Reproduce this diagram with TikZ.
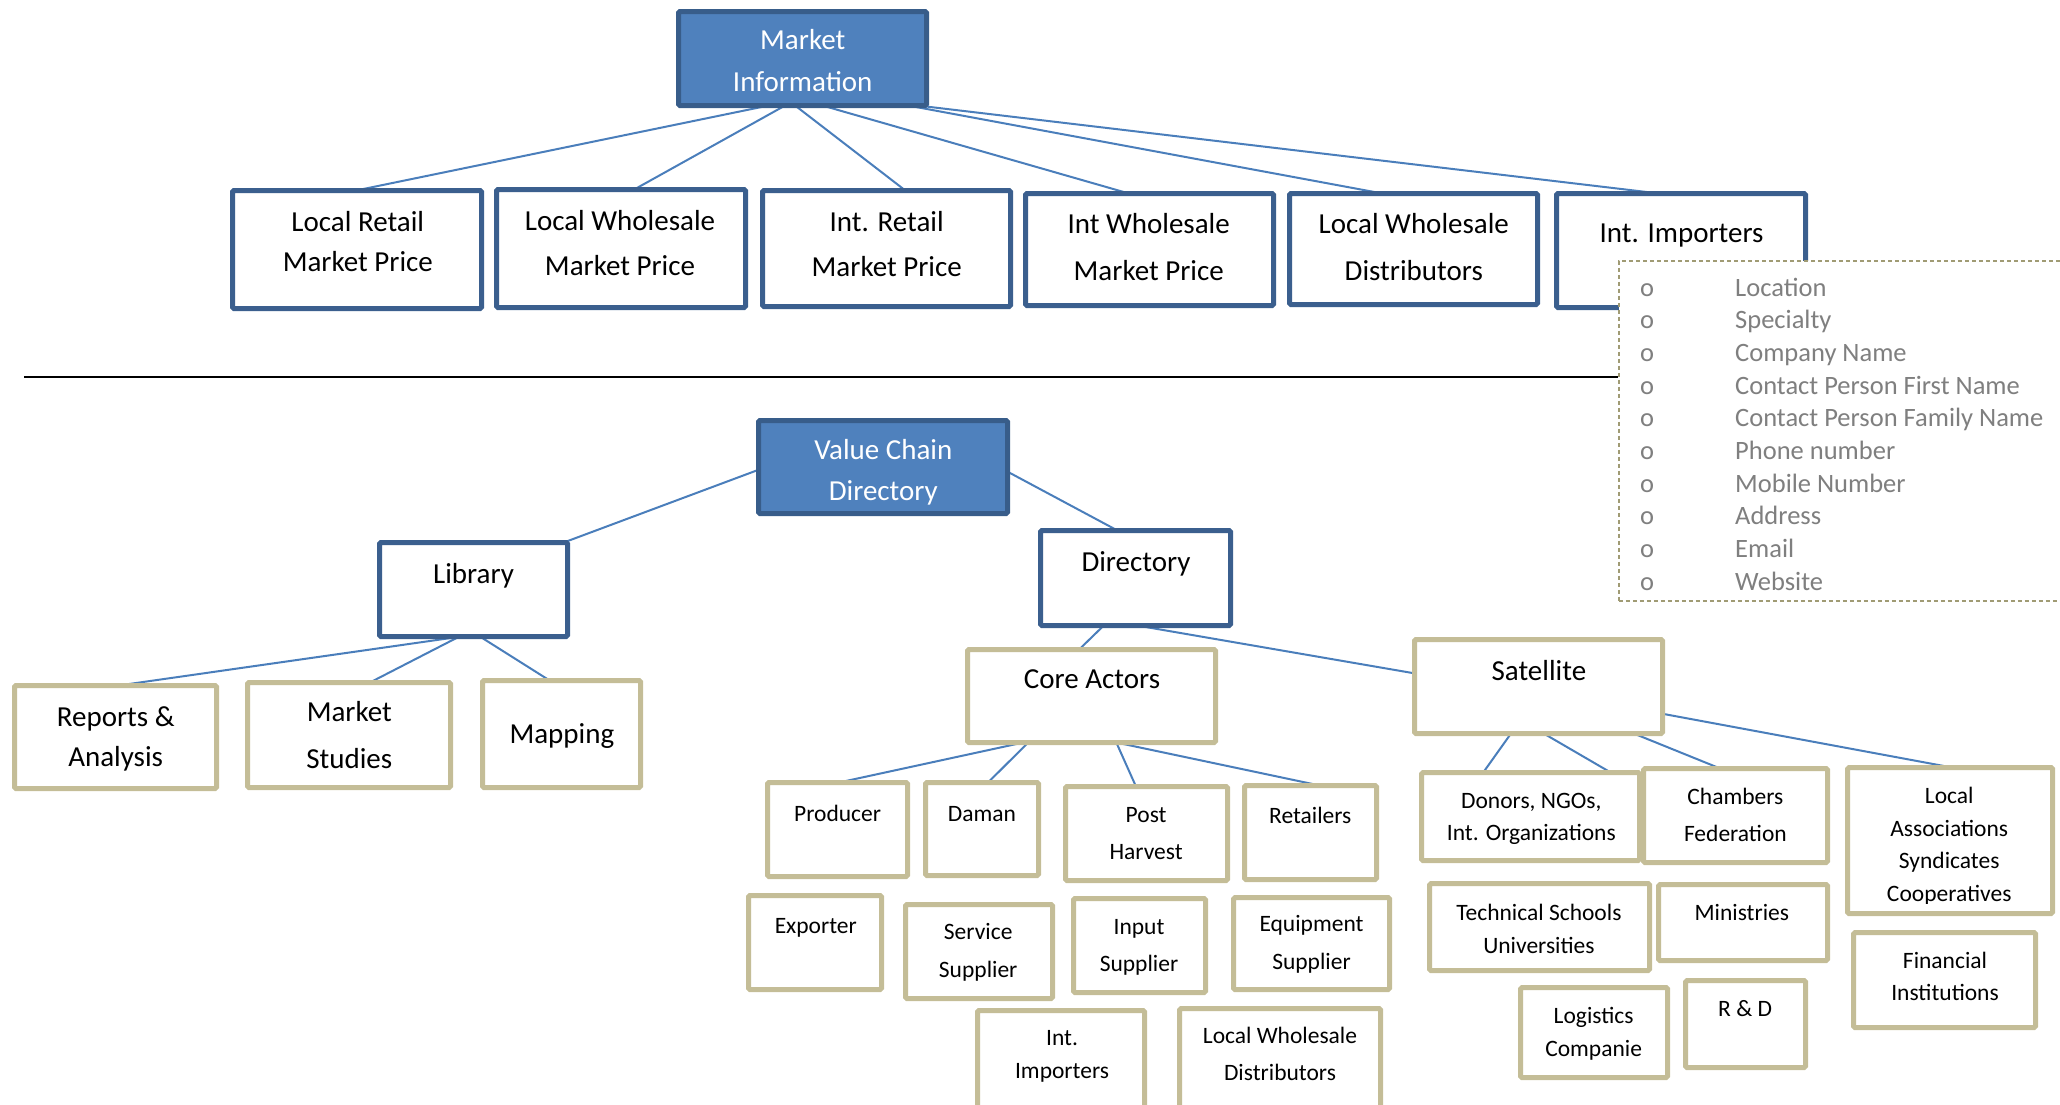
\documentclass[tikz,border=0pt]{standalone}
\usepackage{fontspec}
\setmainfont{Carlito}
\usetikzlibrary{calc}
\definecolor{mifill}{HTML}{4F81BD}
\definecolor{miborder}{HTML}{385D8A}
\definecolor{bluebrd}{HTML}{3B5F8E}
\definecolor{tanbrd}{HTML}{C4BD97}
\definecolor{connc}{HTML}{4A7EBB}
\definecolor{dashc}{HTML}{A09B74}
\definecolor{listc}{HTML}{7F7F7F}
\newcommand\myfs[2]{\fontsize{#1}{#2}\selectfont}
\newcommand\bx[6]{\node[#6, minimum width={(#4)-(#2)-5}, minimum height={(#5)-(#3)-5}] (#1) at ({((#2)+(#4))/2},{((#3)+(#5))/2}) {};}
\pgfdeclarelayer{bg}
\pgfsetlayers{bg,main}
\tikzset{
  boxbase/.style={rectangle, inner sep=0pt, outer sep=0pt, line width=5pt, rounded corners=1.5pt},
  bluebox/.style={boxbase, draw=bluebrd, fill=white},
  headbox/.style={boxbase, draw=miborder, fill=mifill},
  tanbox/.style={boxbase, draw=tanbrd, fill=white},
  dashbox/.style={rectangle, inner sep=0pt, draw=dashc, dash pattern=on 4pt off 3pt, line width=1.6pt, fill=white},
  connector/.style={draw=connc, line width=2pt},
  bigtxt/.style={anchor=base, align=center, inner sep=0pt, font=\myfs{29}{#1}},
  smalltxt/.style={anchor=base, align=center, inner sep=0pt, font=\myfs{23.5}{#1}},
  whitetxt/.style={anchor=base, align=center, inner sep=0pt, text=white, font=\myfs{29}{#1}},
  listtxt/.style={anchor=base west, inner sep=0pt, text=listc, font=\myfs{26.5}{30}},
}
\begin{document}
\begin{tikzpicture}[x=1pt, y=-1pt]
\useasboundingbox (0,0) rectangle (2060,1104);
% ---------------- boxes ----------------
\bx{mi}{676}{9}{929}{108}{headbox}
\bx{lr}{230}{188}{484}{311}{bluebox}
\bx{lw}{494}{187}{748}{310}{bluebox}
\bx{ir}{760}{188}{1013}{309}{bluebox}
\bx{iw}{1023}{191}{1276}{308}{bluebox}
\bx{lwd}{1287}{191}{1540}{307}{bluebox}
\bx{ii}{1554}{191}{1808}{310}{bluebox}
\bx{vcd}{756}{418}{1010}{516}{headbox}
\bx{lib}{377}{540}{570}{639}{bluebox}
\bx{dir}{1038}{528}{1233}{628}{bluebox}
\bx{rep}{12}{683}{219}{791}{tanbox}
\bx{ms}{245}{680}{453}{790}{tanbox}
\bx{map}{480}{678}{643}{790}{tanbox}
\bx{core}{965}{647}{1218}{745}{tanbox}
\bx{sat}{1412}{637}{1665}{736}{tanbox}
\bx{prod}{765}{780}{910}{879}{tanbox}
\bx{dam}{923}{780}{1041}{878}{tanbox}
\bx{ph}{1063}{784}{1230}{883}{tanbox}
\bx{ret}{1242}{783}{1379}{882}{tanbox}
\bx{exp}{746}{893}{884}{992}{tanbox}
\bx{ss}{903}{902}{1055}{1001}{tanbox}
\bx{is}{1071}{896}{1208}{995}{tanbox}
\bx{es}{1231}{895}{1392}{992}{tanbox}
\bx{iitwo}{975}{1008}{1147}{1125}{tanbox}
\bx{lwdtwo}{1177}{1006}{1383}{1125}{tanbox}
\bx{don}{1419}{770}{1642}{863}{tanbox}
\bx{cha}{1641}{766}{1830}{865}{tanbox}
\bx{loc}{1845}{765}{2055}{916}{tanbox}
\bx{tech}{1427}{881}{1652}{973}{tanbox}
\bx{min}{1656}{882}{1830}{963}{tanbox}
\bx{fin}{1851}{930}{2038}{1030}{tanbox}
\bx{log}{1518}{985}{1670}{1080}{tanbox}
\bx{rd}{1683}{978}{1808}{1070}{tanbox}
% ---------------- separator line and attribute list ----------------
\coordinate (hl) at (24,377);
\node[dashbox, anchor=north west, minimum width=460pt, minimum height=340pt] (attr) at (1618,260) {};
\draw[black, line width=1.8pt] (hl) -- (hl -| attr.west);
\foreach \t [count=\k from 0] in {Location,Specialty,Company Name,Contact Person First Name,Contact Person Family Name,Phone number,Mobile Number,Address,Email,Website}{
  \node[listtxt] (bul\k) at (1640,{296+32.7*\k}) {o};
  \node[listtxt] (att\k) at (1735,{296+32.7*\k}) {\t};
}
% ---------------- texts (anchor = baseline of the last line) ----------------
\node[whitetxt=42] (mit) at (802.7,91.7) {Market\\Information};
\node[bigtxt=40] (lrt) at (357.8,271.7) {Local Retail\\Market Price};
\node[bigtxt=45] (lwt) at (620,275) {Local Wholesale\\Market Price};
\node[bigtxt=45] (irt) at (886.7,276.7) {Int. Retail\\Market Price};
\node[bigtxt=46.7] (iwt) at (1148.7,280) {Int Wholesale\\Market Price};
\node[bigtxt=46.7] (lwdt) at (1413.8,280) {Local Wholesale\\Distributors};
\node[bigtxt=40] (iit) at (1681.5,242.7) {Int. Importers};
\node[whitetxt=40.7] (vcdt) at (883.3,500) {Value Chain\\Directory};
\node[bigtxt=40] (libt) at (473.5,583) {Library};
\node[bigtxt=40] (dirt) at (1136,571.7) {Directory};
\node[bigtxt=40] (rept) at (115.7,766.7) {Reports \&\\Analysis};
\node[bigtxt=46.6] (mst) at (349.3,768.3) {Market\\Studies};
\node[bigtxt=40] (mapt) at (561.9,743.3) {Mapping};
\node[bigtxt=40] (coret) at (1092,688) {Core Actors};
\node[bigtxt=40] (satt) at (1538.9,680.7) {Satellite};
\node[smalltxt=37] (prodt) at (837.6,821.7) {Producer};
\node[smalltxt=37] (damt) at (982,821) {Daman};
\node[smalltxt=36.7] (pht) at (1146.1,859) {Post\\Harvest};
\node[smalltxt=37] (rett) at (1310.3,823.3) {Retailers};
\node[smalltxt=37] (expt) at (815.8,933.3) {Exporter};
\node[smalltxt=38] (sst) at (978.2,977.3) {Service\\Supplier};
\node[smalltxt=37] (ist) at (1139,971) {Input\\Supplier};
\node[smalltxt=38.3] (est) at (1311.5,969.3) {Equipment\\Supplier};
\node[smalltxt=33.3] (iitwot) at (1062,1078.3) {Int.\\Importers};
\node[smalltxt=37.4] (lwdtwot) at (1280,1080.7) {Local Wholesale\\Distributors};
\node[smalltxt=32.4] (dont) at (1531.3,840.7) {Donors, NGOs,\\Int. Organizations};
\node[smalltxt=37.4] (chat) at (1735.4,841.7) {Chambers\\Federation};
\begin{scope}
\clip (1845,765) rectangle (2055,903);
\node[smalltxt=32.8] (loct) at (1949.2,901.7) {Local\\Associations\\Syndicates\\Cooperatives};
\end{scope}
\node[smalltxt=33.3] (techt) at (1538.9,953.3) {Technical Schools\\Universities};
\node[smalltxt=37] (mint) at (1741.8,920) {Ministries};
\node[smalltxt=32.4] (fint) at (1945,1000.7) {Financial\\Institutions};
\node[smalltxt=32.7] (logt) at (1593.6,1056) {Logistics\\Companie};
\node[smalltxt=37] (rdt) at (1745.1,1016) {R \& D};
% ---------------- connectors ----------------
\begin{pgfonlayer}{bg}
\draw[connector] ($(mi.south west)!0.364!(mi.south east)$) -- ($(lr.north west)!0.496!(lr.north east)$);
\draw[connector] ($(mi.south west)!0.43!(mi.south east)$) -- ($(lw.north west)!0.553!(lw.north east)$);
\draw[connector] ($(mi.south west)!0.47!(mi.south east)$) -- ($(ir.north west)!0.576!(ir.north east)$);
\draw[connector] ($(mi.south west)!0.58!(mi.south east)$) -- ($(iw.north west)!0.417!(iw.north east)$);
\draw[connector] ($(mi.south west)!0.925!(mi.south east)$) -- ($(lwd.north west)!0.375!(lwd.north east)$);
\draw[connector] ($(mi.south west)!0.964!(mi.south east)$) -- ($(ii.north west)!0.413!(ii.north east)$);
\draw[connector] ($(vcd.north west)!0.53!(vcd.south west)$) -- ($(lib.north west)!0.98!(lib.north east)$);
\draw[connector] ($(vcd.north east)!0.55!(vcd.south east)$) -- ($(dir.north west)!0.405!(dir.north east)$);
\draw[connector] ($(dir.south west)!0.333!(dir.south east)$) -- ($(core.north west)!0.45!(core.north east)$);
\draw[connector] ($(dir.south west)!0.508!(dir.south east)$) -- ($(sat.north west)!0.36!(sat.south west)$);
\draw[connector] ($(lib.south west)!0.435!(lib.south east)$) -- ($(rep.north west)!0.515!(rep.north east)$);
\draw[connector] ($(lib.south west)!0.425!(lib.south east)$) -- ($(ms.north west)!0.603!(ms.north east)$);
\draw[connector] ($(lib.south west)!0.534!(lib.south east)$) -- ($(map.north west)!0.425!(map.north east)$);
\draw[connector] ($(core.south west)!0.225!(core.south east)$) -- ($(prod.north west)!0.51!(prod.north east)$);
\draw[connector] ($(core.south west)!0.245!(core.south east)$) -- ($(dam.north west)!0.553!(dam.north east)$);
\draw[connector] ($(core.south west)!0.60!(core.south east)$) -- ($(ph.north west)!0.435!(ph.north east)$);
\draw[connector] ($(core.south west)!0.60!(core.south east)$) -- ($(ret.north west)!0.57!(ret.north east)$);
\draw[connector] ($(sat.south west)!0.389!(sat.south east)$) -- ($(don.north west)!0.283!(don.north east)$);
\draw[connector] ($(sat.south west)!0.521!(sat.south east)$) -- ($(don.north west)!0.868!(don.north east)$);
\draw[connector] ($(sat.south west)!0.884!(sat.south east)$) -- ($(cha.north west)!0.417!(cha.north east)$);
\draw[connector] ($(sat.north east)!0.79!(sat.south east)$) -- ($(loc.north west)!0.51!(loc.north east)$);
\end{pgfonlayer}
\end{tikzpicture}
\end{document}
